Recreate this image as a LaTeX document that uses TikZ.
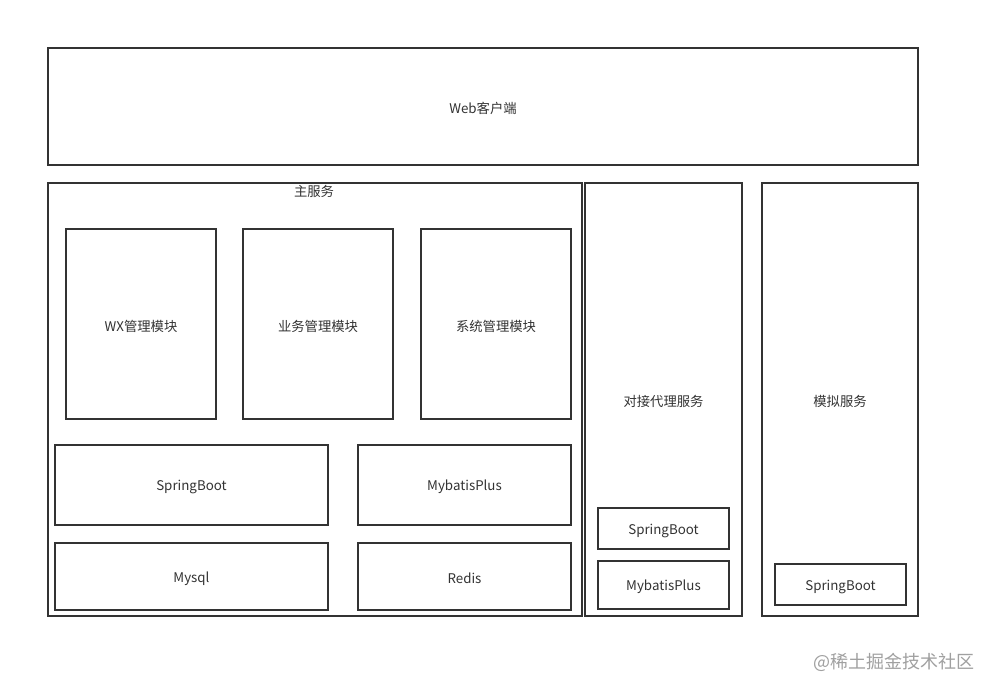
\documentclass[tikz,border=0pt]{standalone}
\usepackage{fontspec}
\setmainfont{Noto Sans CJK SC}
\usetikzlibrary{fit}
\definecolor{ink}{HTML}{333333}
\definecolor{mark}{HTML}{A0A0A0}
\tikzset{
  blk/.style={draw=ink, line width=1.4pt, inner sep=0pt},
  lbl/.style={draw=none, text=ink, inner sep=0pt, yshift=-1.5pt, font=\fontsize{10pt}{12pt}\selectfont}
}
\begin{document}
\begin{tikzpicture}[x=0.75pt,y=-0.75pt]
\useasboundingbox[fill=white] (0,0) rectangle (981,679);
% client
\node[blk, fit={(48,48)(918,165)}] (web) {};
\node[lbl] at (web.center) {Web客户端};
% main service
\node[blk, fit={(48,183)(582,616)}] (main) {};
\node[lbl] (mainlbl) at (314,189) {主服务};
\node[blk, fit={(66,229)(216,419)}] (wx) {};
\node[blk, fit={(243,229)(393,419)}] (biz) {};
\node[blk, fit={(421,229)(571,419)}] (sys) {};
\node[blk, fit={(55,445)(328,525)}] (boot) {};
\node[blk, fit={(358,445)(571,525)}] (mp) {};
\node[blk, fit={(55,543)(328,610)}] (mysql) {};
\node[blk, fit={(358,543)(571,610)}] (redis) {};
\node[lbl] at (wx.center) {WX管理模块};
\node[lbl] at (biz.center) {业务管理模块};
\node[lbl] at (sys.center) {系统管理模块};
\node[lbl] at (boot.center) {SpringBoot};
\node[lbl] at (mp.center) {MybatisPlus};
\node[lbl] at (mysql.center) {Mysql};
\node[lbl] at (redis.center) {Redis};
% proxy service
\node[blk, fit={(585,183)(742,616)}] (proxy) {};
\node[blk, fit={(598,508)(729,549)}] (pboot) {};
\node[blk, fit={(598,561)(729,609)}] (pmp) {};
\node[lbl] at (proxy.center) {对接代理服务};
\node[lbl] at (pboot.center) {SpringBoot};
\node[lbl] at (pmp.center) {MybatisPlus};
% mock service
\node[blk, fit={(762,183)(918,616)}] (mock) {};
\node[blk, fit={(775,564)(906,605)}] (mboot) {};
\node[lbl] at (mock.center) {模拟服务};
\node[lbl] at (mboot.center) {SpringBoot};
% watermark
\node[draw=none, text=mark, anchor=east, inner sep=0pt,
  font=\fontsize{13.5pt}{15pt}\selectfont] (wm) at (975,662) {@稀土掘金技术社区};
\end{tikzpicture}
\end{document}
